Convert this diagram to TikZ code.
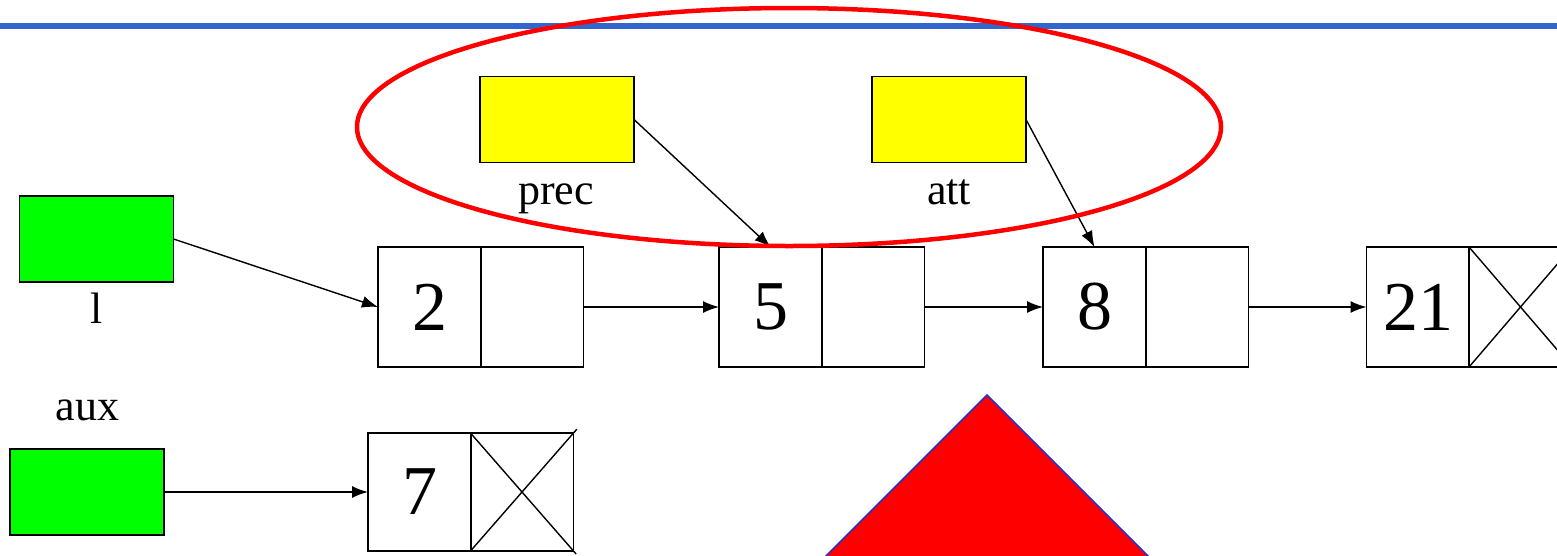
\documentclass[tikz,border=0pt]{standalone}
\usepackage{fontspec}
\setmainfont{Liberation Serif}
\usetikzlibrary{arrows.meta}
\definecolor{topblue}{RGB}{51,102,204}
\definecolor{triblue}{RGB}{40,50,200}
\tikzset{
  cell/.style={draw=black, line width=1.8pt, minimum width=103pt, minimum height=120pt, inner sep=0pt, outer sep=0pt, font=\fontsize{70}{72}\selectfont},
  varbox/.style={draw=black, line width=1.8pt, minimum width=154pt, minimum height=86pt, inner sep=0pt, outer sep=0pt},
  lbl/.style={font=\fontsize{44}{48}\selectfont, anchor=base, inner sep=0pt},
  arr/.style={line width=1.4pt, -{Latex[length=16pt,width=12pt]}},
  cross/.style={line width=1.4pt}
}
\begin{document}
\begin{tikzpicture}[x=1pt,y=-1pt]
\useasboundingbox (0,0) rectangle (1557,555);
\clip (0,0) rectangle (1557,555);
% top rule
\fill[topblue] (0,23) rectangle (1557,29);
% list nodes
\node[cell] (n1) at (429.5,307) {2};
\node[cell] (n1p) at (532,307) {};
\node[cell] (n2) at (770.5,307) {5};
\node[cell] (n2p) at (873,307) {};
\node[cell] (n3) at (1094.5,307) {8};
\node[cell] (n3p) at (1197,307) {};
\node[cell] (n4) at (1418,307) {21};
\node[cell] (n4p) at (1520.5,307) {};
\draw[cross] (n4p.north west) -- (n4p.south east);
\draw[cross] (n4p.south west) -- (n4p.north east);
% aux node
\node[cell, minimum height=118pt] (n7) at (419.5,492) {7};
\node[cell, minimum height=118pt] (n7p) at (522,492) {};
\draw[cross, shorten >=-4pt] (n7p.north west) -- (n7p.south east);
\draw[cross, shorten >=-5pt] (n7p.south west) -- (n7p.north east);
% variables
\node[varbox, fill={rgb,255:red,0;green,255;blue,0}] (l) at (96.5,239) {};
\node[lbl] (ltxt) at (96.5,323) {l};
\node[varbox, fill={rgb,255:red,0;green,255;blue,0}] (aux) at (87,492) {};
\node[lbl] (auxtxt) at (87.5,420) {aux};
\node[varbox, fill={rgb,255:red,255;green,255;blue,0}] (prec) at (557,119.5) {};
\node[lbl] (prectxt) at (556,204) {prec};
\node[varbox, fill={rgb,255:red,255;green,255;blue,0}] (att) at (949,119.5) {};
\node[lbl] (atttxt) at (949,204) {att};
% connectors
\draw[arr] (l.east) -- (n1.west);
\draw[arr] (n1p.east) -- (n2.west);
\draw[arr] (n2p.east) -- (n3.west);
\draw[arr] (n3p.east) -- (n4.west);
\draw[arr] (aux.east) -- (n7.west);
\draw[arr] (prec.east) -- (n2.north);
\draw[arr] (att.east) -- (n3.north);
% red ellipse
\draw[red, line width=4.5pt] (789,127) ellipse [x radius=432, y radius=119];
% triangle
\fill[black!15] (989,399) -- (1196,606) -- (782,606) -- cycle;
\draw[triblue, line width=1.5pt, fill=red] (987,395) -- (1192,600) -- (782,600) -- cycle;
\end{tikzpicture}
\end{document}
